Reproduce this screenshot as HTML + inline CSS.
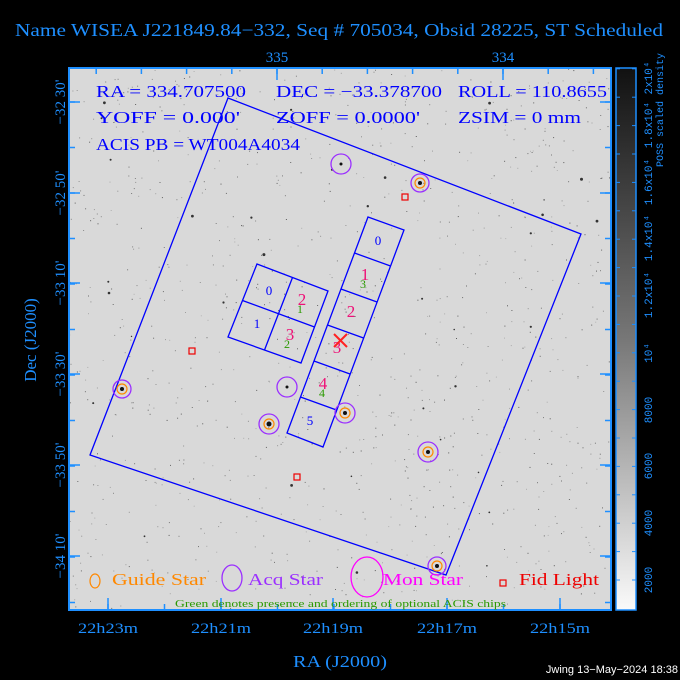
<!DOCTYPE html>
<html><head><meta charset="utf-8"><style>
html,body{margin:0;padding:0;background:#000;}
svg{display:block;}
</style></head><body>
<svg id="s" width="680" height="680" viewBox="0 0 680 680" xmlns="http://www.w3.org/2000/svg" font-family="Liberation Serif">
<defs>
<linearGradient id="cb" x1="0" y1="0" x2="0" y2="1">
<stop offset="0" stop-color="#111"/><stop offset="0.5" stop-color="#777"/><stop offset="1" stop-color="#fafafa"/>
</linearGradient>
<clipPath id="cp"><rect x="69" y="68" width="542" height="542"/></clipPath>
</defs>
<rect width="680" height="680" fill="#000"/>
<text x="15" y="36" fill="#1e8fff" font-size="18" textLength="648" lengthAdjust="spacingAndGlyphs">Name WISEA J221849.84−332, Seq # 705034, Obsid 28225, ST Scheduled</text>
<rect x="69" y="68" width="542" height="542" fill="#d9d9d9"/>
<g id="dots" clip-path="url(#cp)"></g>
<g fill="none" stroke="#1e8fff" stroke-width="2"><rect x="69" y="68" width="542" height="542"/></g>
<g id="ticks" stroke="#1e8fff" stroke-width="1.5"></g>
<g fill="#1e8fff" font-size="15">
<text x="277" y="62" text-anchor="middle">335</text>
<text x="503" y="62" text-anchor="middle">334</text>
<text x="78" y="633" textLength="60" lengthAdjust="spacingAndGlyphs">22h23m</text>
<text x="191" y="633" textLength="60" lengthAdjust="spacingAndGlyphs">22h21m</text>
<text x="303" y="633" textLength="60" lengthAdjust="spacingAndGlyphs">22h19m</text>
<text x="417" y="633" textLength="60" lengthAdjust="spacingAndGlyphs">22h17m</text>
<text x="530" y="633" textLength="60" lengthAdjust="spacingAndGlyphs">22h15m</text>
<text x="293" y="667" font-size="17" textLength="94" lengthAdjust="spacingAndGlyphs">RA (J2000)</text>
<text transform="translate(36,340) rotate(-90)" text-anchor="middle" font-size="17">Dec (J2000)</text>
<text transform="translate(65,102) rotate(-90)" text-anchor="middle">−32 30'</text>
<text transform="translate(65,193) rotate(-90)" text-anchor="middle">−32 50'</text>
<text transform="translate(65,283) rotate(-90)" text-anchor="middle">−33 10'</text>
<text transform="translate(65,374) rotate(-90)" text-anchor="middle">−33 30'</text>
<text transform="translate(65,465) rotate(-90)" text-anchor="middle">−33 50'</text>
<text transform="translate(65,556) rotate(-90)" text-anchor="middle">−34 10'</text>
</g>
<rect x="616" y="68" width="20" height="542" fill="url(#cb)" stroke="#1e8fff" stroke-width="1.5"/>
<g id="cbt" stroke="#1e8fff" stroke-width="1"></g>
<g fill="#1e8fff" font-size="11" font-family="Liberation Mono">
<text transform="translate(652,580) rotate(-90)" text-anchor="middle">2000</text>
<text transform="translate(652,523) rotate(-90)" text-anchor="middle">4000</text>
<text transform="translate(652,466) rotate(-90)" text-anchor="middle">6000</text>
<text transform="translate(652,410) rotate(-90)" text-anchor="middle">8000</text>
<text transform="translate(652,353) rotate(-90)" text-anchor="middle">10⁴</text>
<text transform="translate(652,295) rotate(-90)" text-anchor="middle">1.2x10⁴</text>
<text transform="translate(652,238) rotate(-90)" text-anchor="middle">1.4x10⁴</text>
<text transform="translate(652,182) rotate(-90)" text-anchor="middle">1.6x10⁴</text>
<text transform="translate(652,125) rotate(-90)" text-anchor="middle">1.8x10⁴</text>
<text transform="translate(652,78) rotate(-90)" text-anchor="middle">2x10⁴</text>
<text transform="translate(663,110) rotate(-90)" text-anchor="middle" font-size="10">POSS scaled density</text>
</g>
<g clip-path="url(#cp)">
<g fill="none" stroke="#0000ff" stroke-width="1.3">
<polygon points="228,98 581,234 446,575 90,455"/>
<polygon points="257,264 328,291 301,363 228,337"/>
<line x1="242.5" y1="300.5" x2="314.5" y2="327"/>
<line x1="292.5" y1="277.5" x2="264.5" y2="350"/>
<polygon points="368,217 404,230 323,447 287,433"/>
<line x1="354.5" y1="253" x2="390.5" y2="266"/>
<line x1="341" y1="289" x2="377" y2="302"/>
<line x1="327.5" y1="325" x2="363.5" y2="338"/>
<line x1="314" y1="361" x2="350" y2="374"/>
<line x1="300.5" y1="397" x2="336.5" y2="410"/>
</g>
<g fill="#0000ff" font-size="17">
<text x="96" y="97" textLength="150" lengthAdjust="spacingAndGlyphs">RA = 334.707500</text>
<text x="276" y="97" textLength="166" lengthAdjust="spacingAndGlyphs">DEC = −33.378700</text>
<text x="458" y="97" textLength="149" lengthAdjust="spacingAndGlyphs">ROLL = 110.8655</text>
<text x="96" y="123" textLength="144" lengthAdjust="spacingAndGlyphs">YOFF =   0.000'</text>
<text x="276" y="123" textLength="144" lengthAdjust="spacingAndGlyphs">ZOFF =  0.0000'</text>
<text x="458" y="123" textLength="123" lengthAdjust="spacingAndGlyphs">ZSIM = 0 mm</text>
<text x="96" y="150" textLength="204" lengthAdjust="spacingAndGlyphs">ACIS PB = WT004A4034</text>
<g font-size="13" text-anchor="middle">
<text x="269" y="295">0</text><text x="257" y="328">1</text>
<text x="378" y="245">0</text><text x="310" y="425">5</text>
</g>
</g>
<g fill="#ee1177" font-size="17" text-anchor="middle">
<text x="302" y="305">2</text><text x="290" y="340">3</text>
<text x="365" y="280">1</text><text x="351" y="317">2</text><text x="337" y="353">3</text><text x="323" y="389">4</text>
</g>
<g fill="#2a9a00" font-size="12" text-anchor="middle">
<text x="300" y="313">1</text><text x="287" y="348">2</text><text x="363" y="288">3</text><text x="322" y="397">4</text>
</g>
<g stroke="#ff2222" stroke-width="2"><line x1="334" y1="334" x2="347" y2="347"/><line x1="347" y1="334" x2="334" y2="347"/></g>
<g fill="none" stroke="#9b30ff" stroke-width="1.3">
<circle cx="341" cy="164" r="10"/><circle cx="420" cy="183" r="9"/><circle cx="122" cy="389" r="9"/>
<circle cx="287" cy="387" r="10"/><circle cx="269" cy="424" r="10"/><circle cx="345" cy="413" r="10"/>
<circle cx="428" cy="452" r="10"/><circle cx="437" cy="566" r="9"/>
</g>
<g fill="none" stroke="#ff8800" stroke-width="1.2">
<circle cx="420" cy="183" r="5"/><circle cx="122" cy="389" r="5"/><circle cx="269" cy="424" r="5"/>
<circle cx="345" cy="413" r="5"/><circle cx="428" cy="452" r="5"/><circle cx="437" cy="566" r="5"/>
</g>
<g fill="#111"><circle cx="341" cy="164" r="1.5"/><circle cx="420" cy="183" r="2"/><circle cx="122" cy="389" r="2"/><circle cx="287" cy="387" r="1.5"/><circle cx="269" cy="424" r="2.5"/><circle cx="345" cy="413" r="2"/><circle cx="428" cy="452" r="2"/><circle cx="437" cy="566" r="2"/></g>
<g fill="none" stroke="#ee0000" stroke-width="1.2">
<rect x="402" y="194" width="6" height="6"/><rect x="189" y="348" width="6" height="6"/><rect x="294" y="474" width="6" height="6"/>
</g>
<ellipse cx="95" cy="581" rx="5" ry="7" fill="none" stroke="#ff8800" stroke-width="1.2"/>
<text x="112" y="585" fill="#ff8800" font-size="17" textLength="94" lengthAdjust="spacingAndGlyphs">Guide Star</text>
<ellipse cx="232" cy="578" rx="10" ry="13" fill="none" stroke="#9b30ff" stroke-width="1.3"/>
<text x="248" y="585" fill="#9b30ff" font-size="17" textLength="75" lengthAdjust="spacingAndGlyphs">Acq Star</text>
<ellipse cx="367" cy="577" rx="16" ry="20" fill="none" stroke="#ff00ff" stroke-width="1.3"/>
<text x="383" y="585" fill="#ff00ff" font-size="17" textLength="80" lengthAdjust="spacingAndGlyphs">Mon Star</text>
<rect x="500" y="580" width="6" height="6" fill="none" stroke="#ee0000" stroke-width="1.2"/>
<text x="519" y="585" fill="#ee0000" font-size="17" textLength="80" lengthAdjust="spacingAndGlyphs">Fid Light</text>
<text x="175" y="607" fill="#2a9a00" font-size="11" textLength="331" lengthAdjust="spacingAndGlyphs">Green denotes presence and ordering of optional ACIS chips</text>
</g>
<text x="678" y="673" fill="#fff" font-size="11" text-anchor="end" font-family="Liberation Sans">Jwing 13−May−2024 18:38</text>
</svg>
<script>
var NS="http://www.w3.org/2000/svg";
function el(p,t,a){var e=document.createElementNS(NS,t);for(var k in a)e.setAttribute(k,a[k]);document.getElementById(p).appendChild(e);}
var seed=7;function r(){seed=(seed*16807)%2147483647;return seed/2147483647;}
for(var i=0;i<1000;i++){var x=69+r()*542,y=68+r()*542,g=Math.floor(90+r()*90);el("dots","rect",{x:x.toFixed(1),y:y.toFixed(1),width:1,height:1,fill:"rgb("+g+","+g+","+g+")"});}
for(var i=0;i<35;i++){var x=69+r()*542,y=68+r()*542;el("dots","circle",{cx:x.toFixed(1),cy:y.toFixed(1),r:(0.7+r()*0.8).toFixed(1),fill:"#333"});}
var maj=[102,193,283,374,465,556];
maj.forEach(function(y){el("ticks","line",{x1:69,y1:y,x2:80,y2:y});el("ticks","line",{x1:611,y1:y,x2:600,y2:y});});
for(var y=102-45.5;y<610;y+=45.5){if(y>68){el("ticks","line",{x1:69,y1:y,x2:75,y2:y});el("ticks","line",{x1:611,y1:y,x2:605,y2:y});}}
[108,221,333,447,560].forEach(function(x){el("ticks","line",{x1:x,y1:610,x2:x,y2:598});});
for(var x=108-56.5;x<611;x+=56.5){if(x>69){el("ticks","line",{x1:x,y1:610,x2:x,y2:604});}}
[277,503].forEach(function(x){el("ticks","line",{x1:x,y1:68,x2:x,y2:80});});
for(var x=277-226;x<611;x+=45.2){if(x>69){el("ticks","line",{x1:x,y1:68,x2:x,y2:74});}}
for(var y=580;y>68;y-=28.4){el("cbt","line",{x1:616,y1:y.toFixed(1),x2:620,y2:y.toFixed(1)});el("cbt","line",{x1:636,y1:y.toFixed(1),x2:632,y2:y.toFixed(1)});}
</script>
</body></html>
